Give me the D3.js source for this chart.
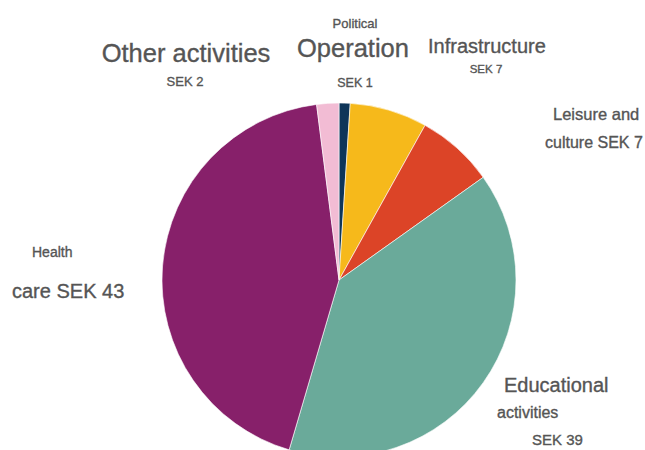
<!DOCTYPE html>
<html>
<head>
<meta charset="utf-8">
<script src="https://cdn.jsdelivr.net/npm/d3@7"></script>
<style>
  body { margin: 0; background: #fff; }
  svg { display: block; }
</style>
</head>
<body>
<svg id="chart" width="645" height="450"></svg>
<script>
// Data, in clockwise order starting at 12 o'clock
const categories = [
  "Political Operation",
  "Infrastructure",
  "Leisure and culture",
  "Educational activities",
  "Health care",
  "Other activities",
];
const values = [1, 7, 7, 39, 43, 2];
const colors = ["#0e3559", "#f6b91b", "#dc4427", "#6aaa9a", "#87206a", "#f2bcd4"];

// Label text lines for each category
const labelLines = [
  ["Political", "Operation", "SEK 1"],
  ["Infrastructure", "SEK 7"],
  ["Leisure and", "culture SEK 7"],
  ["Educational", "activities", "SEK 39"],
  ["Health", "care SEK 43"],
  ["Other activities", "SEK 2"],
];

// Label layout: x, baseline y, font size, anchor per line
const labelLayout = [
  [[355, 28, 13, "middle"], [353, 57, 25.5, "middle"], [355, 87, 12.5, "middle"]],
  [[428, 53, 20, "start"], [486, 73, 11.5, "middle"]],
  [[553, 120, 16.5, "start"], [545, 148, 16, "start"]],
  [[504, 392, 20, "start"], [497, 418, 16, "start"], [532, 445, 15, "start"]],
  [[32, 257, 14, "start"], [12, 298, 20, "start"]],
  [[186, 62, 25.5, "middle"], [185, 86, 13, "middle"]],
];

const CX = 339;
const CY = 280;
const RADIUS = 177;
const TEXT_COLOR = "#555";

const svg = d3.select("#chart");

const pie = d3.pie().sort(null).value((d) => d.value);
const arc = d3.arc().innerRadius(0).outerRadius(RADIUS);

const slices = categories.map((name, i) => ({ name, value: values[i], color: colors[i] }));

svg
  .append("g")
  .attr("transform", `translate(${CX},${CY})`)
  .selectAll("path")
  .data(pie(slices))
  .join("path")
  .attr("d", arc)
  .attr("fill", (d) => d.data.color)
  .attr("stroke", "#fff")
  .attr("stroke-width", 0.6);

// the scanned labels look a bit heavy, so give them a thin outline
const labels = svg
  .append("g")
  .attr("font-family", "'Liberation Sans', Arial, Helvetica, sans-serif")
  .attr("fill", TEXT_COLOR)
  .attr("stroke", TEXT_COLOR)
  .attr("stroke-width", 0.35);

labelLines.forEach((lines, i) => {
  lines.forEach((line, j) => {
    const [x, y, size, anchor] = labelLayout[i][j];
    labels
      .append("text")
      .attr("x", x)
      .attr("y", y)
      .attr("font-size", size)
      .attr("text-anchor", anchor)
      .text(line);
  });
});
</script>
</body>
</html>
